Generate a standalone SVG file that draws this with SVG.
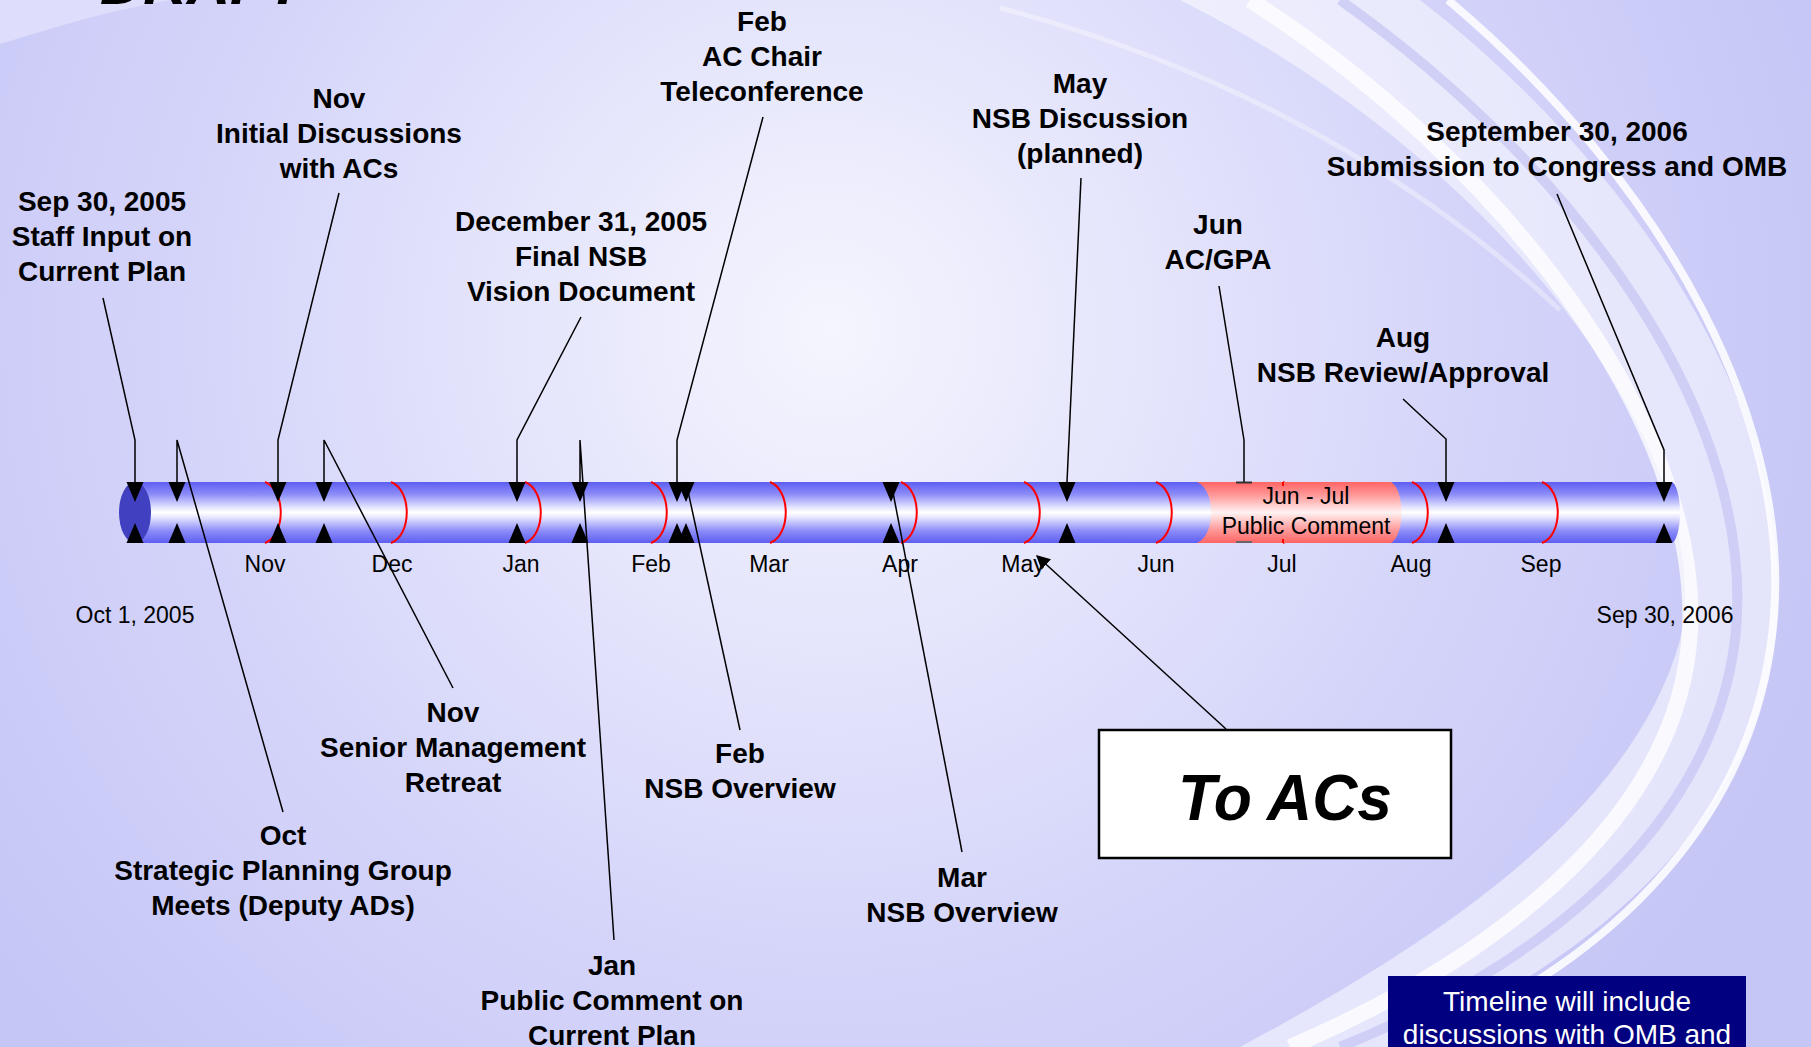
<svg xmlns="http://www.w3.org/2000/svg" width="1811" height="1047" viewBox="0 0 1811 1047">
  <defs>
    <radialGradient id="bg" gradientUnits="userSpaceOnUse" cx="830" cy="330" r="1050">
      <stop offset="0" stop-color="#f5f5fe"/>
      <stop offset="0.3" stop-color="#e5e5fc"/>
      <stop offset="0.6" stop-color="#d5d5fa"/>
      <stop offset="0.85" stop-color="#cbcbf8"/>
      <stop offset="1" stop-color="#c6c6f6"/>
    </radialGradient>
    <linearGradient id="tube" x1="0" y1="0" x2="0" y2="1">
      <stop offset="0" stop-color="#5e5ef2"/>
      <stop offset="0.2" stop-color="#8c8cf8"/>
      <stop offset="0.42" stop-color="#e6e6ff"/>
      <stop offset="0.5" stop-color="#ffffff"/>
      <stop offset="0.58" stop-color="#e6e6ff"/>
      <stop offset="0.8" stop-color="#8c8cf8"/>
      <stop offset="1" stop-color="#5e5ef2"/>
    </linearGradient>
    <linearGradient id="pink" x1="0" y1="0" x2="0" y2="1">
      <stop offset="0" stop-color="#ff6464"/>
      <stop offset="0.22" stop-color="#ff9a9a"/>
      <stop offset="0.5" stop-color="#fff2f2"/>
      <stop offset="0.78" stop-color="#ff9a9a"/>
      <stop offset="1" stop-color="#ff6464"/>
    </linearGradient>
    <path id="tri-down" d="M-8.5,482 L8.5,482 L0,502 Z" fill="#000"/>
    <path id="tri-up" d="M-8.5,543 L8.5,543 L0,523 Z" fill="#000"/>
    <path id="sep" d="M0,482 C21,490 21,535 0,543" fill="none" stroke="#ff0000" stroke-width="2"/>
    <marker id="arrow" viewBox="0 0 10 10" refX="9" refY="5" markerWidth="14" markerHeight="14" markerUnits="userSpaceOnUse" orient="auto">
      <path d="M0,0 L10,5 L0,10 Z" fill="#000"/>
    </marker>
  </defs>
  <style>
    .lb { font-family: "Liberation Sans", Arial, sans-serif; font-weight: bold; font-size: 28px; text-anchor: middle; fill: #000; }
    .mo { font-family: "Liberation Sans", Arial, sans-serif; font-size: 23px; text-anchor: middle; fill: #000; }
    .cn { stroke: #000; stroke-width: 1.5; fill: none; }
  </style>

  <!-- background -->
  <g id="background">
    <rect x="0" y="0" width="1811" height="1047" fill="url(#bg)"/>
    <path d="M0,0 L0,44 C40,32 100,12 172,0 Z" fill="#dedefc"/>
    <path d="M1000,8 C1200,60 1400,160 1560,310" fill="none" stroke="#ffffff" stroke-opacity="0.35" stroke-width="5"/>
    <path d="M1420,0 C1640,170 1800,420 1775,640 C1750,840 1560,980 1390,1047 L1240,1047 C1420,950 1630,820 1680,640 C1720,470 1520,170 1180,0 Z" fill="#ffffff" fill-opacity="0.5"/>
    <path d="M1250,0 C1500,160 1700,420 1690,630 C1680,830 1470,970 1290,1047" fill="none" stroke="#ffffff" stroke-opacity="0.75" stroke-width="16"/>
    <path d="M1340,0 C1580,170 1760,420 1735,640 C1710,840 1520,975 1340,1047" fill="none" stroke="#c4c4f4" stroke-opacity="0.7" stroke-width="10"/>
    <path d="M1448,0 C1662,180 1805,430 1770,650 C1740,850 1572,985 1402,1047" fill="none" stroke="#ffffff" stroke-opacity="0.85" stroke-width="8"/>
    <text x="100" y="4" font-family="'Liberation Sans', Arial, sans-serif" font-weight="bold" font-style="italic" font-size="60" fill="#000">DRAFT</text>
  </g>

  <!-- timeline tube -->
  <g id="timeline-bar">
    <rect x="135" y="482" width="1536" height="61" fill="url(#tube)"/>
    <ellipse cx="1671" cy="512.5" rx="9" ry="30.5" fill="url(#tube)"/>
    <ellipse cx="135" cy="512.5" rx="16" ry="30.5" fill="#4040c0"/>
    <use href="#sep" x="265"/>
    <use href="#sep" x="391"/>
    <use href="#sep" x="525"/>
    <use href="#sep" x="651"/>
    <use href="#sep" x="770"/>
    <use href="#sep" x="901"/>
    <use href="#sep" x="1024"/>
    <use href="#sep" x="1156"/>
    <use href="#sep" x="1283"/>
    <use href="#sep" x="1412"/>
    <use href="#sep" x="1542"/>
    <g id="jun-jul-public-comment">
      <path d="M1197,482 C1216,490 1216,535 1197,543 L1391,543 C1405,535 1405,490 1391,482 Z" fill="url(#pink)"/>
      <line x1="1283" y1="482" x2="1283" y2="486" stroke="#ff0000" stroke-width="2"/>
      <line x1="1283" y1="539" x2="1283" y2="543" stroke="#ff0000" stroke-width="2"/>
      <text class="mo" x="1306" y="504">Jun - Jul</text>
      <text class="mo" x="1306" y="534">Public Comment</text>
    </g>
    <g id="month-labels">
      <text class="mo" x="135" y="623">Oct 1, 2005</text>
      <text class="mo" x="265" y="572">Nov</text>
      <text class="mo" x="392" y="572">Dec</text>
      <text class="mo" x="521" y="572">Jan</text>
      <text class="mo" x="651" y="572">Feb</text>
      <text class="mo" x="769" y="572">Mar</text>
      <text class="mo" x="900" y="572">Apr</text>
      <text class="mo" x="1023" y="572">May</text>
      <text class="mo" x="1156" y="572">Jun</text>
      <text class="mo" x="1282" y="572">Jul</text>
      <text class="mo" x="1411" y="572">Aug</text>
      <text class="mo" x="1541" y="572">Sep</text>
      <text class="mo" x="1665" y="623">Sep 30, 2006</text>
    </g>
  </g>

  <!-- connectors -->
  <g id="connectors">
    <polyline class="cn" points="103,298 135,440 135,482"/>
    <polyline class="cn" points="283,812 177,440 177,482"/>
    <polyline class="cn" points="339,193 278,440 278,482"/>
    <polyline class="cn" points="453,688 324,440 324,482"/>
    <polyline class="cn" points="581,317 517,440 517,482"/>
    <polyline class="cn" points="614,940 580,440 580,482"/>
    <polyline class="cn" points="763,117 677,440 677,482"/>
    <polyline class="cn" points="740,730 686,482"/>
    <polyline class="cn" points="962,852 891,482"/>
    <polyline class="cn" points="1081,178 1067,482"/>
    <polyline class="cn" points="1219,286 1244,440 1244,482"/>
    <polyline class="cn" points="1403,399 1446,439 1446,482"/>
    <polyline class="cn" points="1557,194 1664,450 1664,482"/>
    <line class="cn" x1="1226" y1="729" x2="1037" y2="556" marker-end="url(#arrow)"/>
  </g>

  <!-- nodes -->
  <g id="node-sep30-2005">
    <use href="#tri-down" x="135"/><use href="#tri-up" x="135"/>
    <text class="lb" y="211"><tspan x="102">Sep 30, 2005</tspan><tspan x="102" dy="34.8">Staff Input on</tspan><tspan x="102" dy="34.8">Current Plan</tspan></text>
  </g>
  <g id="node-oct-spg">
    <use href="#tri-down" x="177"/><use href="#tri-up" x="177"/>
    <text class="lb" y="845"><tspan x="283">Oct</tspan><tspan x="283" dy="34.8">Strategic Planning Group</tspan><tspan x="283" dy="34.8">Meets (Deputy ADs)</tspan></text>
  </g>
  <g id="node-nov-initial">
    <use href="#tri-down" x="278"/><use href="#tri-up" x="278"/>
    <text class="lb" y="108"><tspan x="339">Nov</tspan><tspan x="339" dy="34.8">Initial Discussions</tspan><tspan x="339" dy="34.8">with ACs</tspan></text>
  </g>
  <g id="node-nov-retreat">
    <use href="#tri-down" x="324"/><use href="#tri-up" x="324"/>
    <text class="lb" y="722"><tspan x="453">Nov</tspan><tspan x="453" dy="34.8">Senior Management</tspan><tspan x="453" dy="34.8">Retreat</tspan></text>
  </g>
  <g id="node-dec31-2005">
    <use href="#tri-down" x="517"/><use href="#tri-up" x="517"/>
    <text class="lb" y="231"><tspan x="581">December 31, 2005</tspan><tspan x="581" dy="34.8">Final NSB</tspan><tspan x="581" dy="34.8">Vision Document</tspan></text>
  </g>
  <g id="node-jan-public">
    <use href="#tri-down" x="580"/><use href="#tri-up" x="580"/>
    <text class="lb" y="975"><tspan x="612">Jan</tspan><tspan x="612" dy="34.8">Public Comment on</tspan><tspan x="612" dy="34.8">Current Plan</tspan></text>
  </g>
  <g id="node-feb-acchair">
    <use href="#tri-down" x="677"/><use href="#tri-up" x="677"/>
    <text class="lb" y="31"><tspan x="762">Feb</tspan><tspan x="762" dy="34.8">AC Chair</tspan><tspan x="762" dy="34.8">Teleconference</tspan></text>
  </g>
  <g id="node-feb-nsb">
    <use href="#tri-down" x="686"/><use href="#tri-up" x="686"/>
    <text class="lb" y="763"><tspan x="740">Feb</tspan><tspan x="740" dy="34.8">NSB Overview</tspan></text>
  </g>
  <g id="node-mar-nsb">
    <use href="#tri-down" x="891"/><use href="#tri-up" x="891"/>
    <text class="lb" y="887"><tspan x="962">Mar</tspan><tspan x="962" dy="34.8">NSB Overview</tspan></text>
  </g>
  <g id="node-may-nsb">
    <use href="#tri-down" x="1067"/><use href="#tri-up" x="1067"/>
    <text class="lb" y="93"><tspan x="1080">May</tspan><tspan x="1080" dy="34.8">NSB Discussion</tspan><tspan x="1080" dy="34.8">(planned)</tspan></text>
  </g>
  <g id="node-jun-acgpa">
    <line x1="1236" y1="482.5" x2="1252" y2="482.5" stroke="#333" stroke-width="2"/>
    <line x1="1236" y1="542" x2="1252" y2="542" stroke="#666" stroke-width="2"/>
    <text class="lb" y="234"><tspan x="1218">Jun</tspan><tspan x="1218" dy="34.8">AC/GPA</tspan></text>
  </g>
  <g id="node-aug-nsb">
    <use href="#tri-down" x="1446"/><use href="#tri-up" x="1446"/>
    <text class="lb" y="347"><tspan x="1403">Aug</tspan><tspan x="1403" dy="34.8">NSB Review/Approval</tspan></text>
  </g>
  <g id="node-sep30-2006">
    <use href="#tri-down" x="1664"/><use href="#tri-up" x="1664"/>
    <text class="lb" y="141"><tspan x="1557">September 30, 2006</tspan><tspan x="1557" dy="34.8">Submission to Congress and OMB</tspan></text>
  </g>
  <g id="node-to-acs">
    <rect x="1099" y="730" width="352" height="128" fill="#ffffff" stroke="#000" stroke-width="2.5"/>
    <text x="1285" y="820" font-family="'Liberation Sans', Arial, sans-serif" font-weight="bold" font-style="italic" font-size="65" text-anchor="middle" textLength="214" lengthAdjust="spacingAndGlyphs" fill="#000">To ACs</text>
  </g>
  <g id="node-note">
    <rect x="1388" y="976" width="358" height="80" fill="#000080"/>
    <text x="1567" y="1011" font-family="'Liberation Sans', Arial, sans-serif" font-size="28" text-anchor="middle" fill="#ffffff">Timeline will include</text>
    <text x="1567" y="1044" font-family="'Liberation Sans', Arial, sans-serif" font-size="28" text-anchor="middle" fill="#ffffff">discussions with OMB and</text>
  </g>
</svg>
